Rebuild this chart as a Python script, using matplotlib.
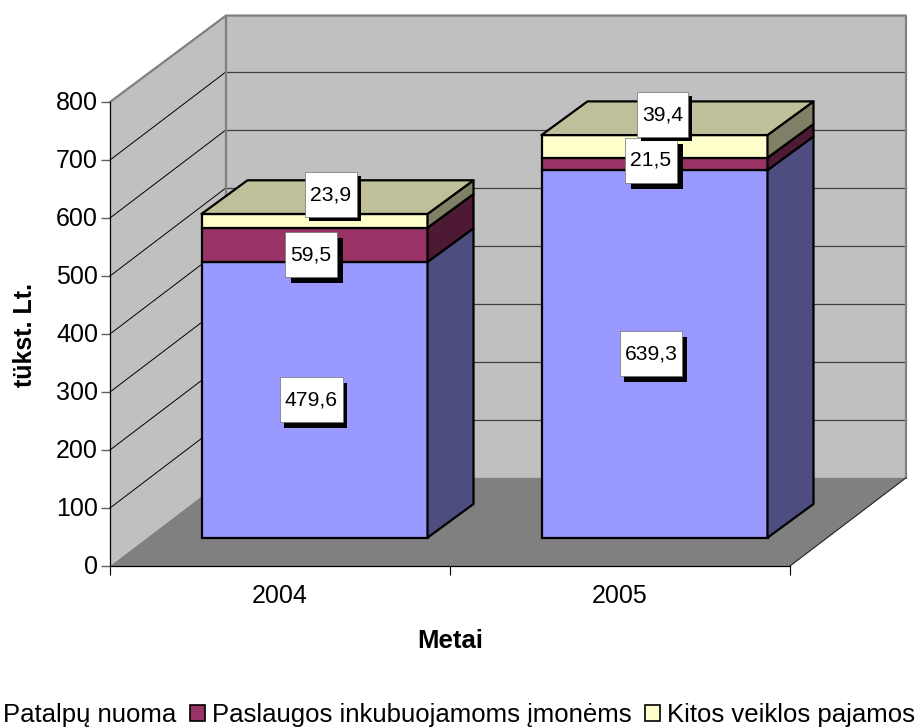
import matplotlib
matplotlib.use("Agg")
import matplotlib.pyplot as plt
from matplotlib.patches import Polygon, Patch
from matplotlib.path import Path
from matplotlib.transforms import ScaledTranslation
from matplotlib import patheffects as pe

plt.rcParams['font.family'] = ['Liberation Sans', 'DejaVu Sans']

# ---- data
years = ['2004', '2005']
series_names = ['Patalpų nuoma', 'Paslaugos inkubuojamoms įmonėms', 'Kitos veiklos pajamos']
patalpu = [479.6, 639.3]
paslaugos = [59.5, 21.5]
kitos = [23.9, 39.4]
y_ticks = [0, 100, 200, 300, 400, 500, 600, 700, 800]
label_texts = [['479,6', '639,3'], ['59,5', '21,5'], ['23,9', '39,4']]

# ---- styles
W, H = 918, 727
front = ['#9999FF', '#993366', '#FFFFCC']
side = ['#4D4D80', '#4D1933', '#808066']
top_col = '#BFBF99'
wall = '#C0C0C0'
floor = '#808080'

fig = plt.figure(figsize=(W / 100, H / 100), dpi=100, facecolor='white')


def px_axes(left, right, top, bottom, **kw):
    return fig.add_axes([left / W, 1 - bottom / H, (right - left) / W, (bottom - top) / H], **kw)


# wall / floor axes: x in category units, y in chart value units
ax = px_axes(110, 790, 102, 566)
ax.set_xlim(0, 2)
ax.set_ylim(0, 800)
ax.patch.set_visible(False)
DX, DY = 116 / 340, 152
TOP = 800 + DY - 3

ax.add_patch(Polygon([(0, 0), (DX, DY), (DX, TOP), (0, 800)], fc=wall, ec='none', clip_on=False, zorder=1))
ax.add_patch(Polygon([(DX, DY), (2 + DX, DY), (2 + DX, TOP), (DX, TOP)], fc=wall, ec='none', clip_on=False, zorder=1))
ax.add_patch(Polygon([(0, 0), (2, 0), (2 + DX, DY), (DX, DY)], fc=floor, ec='none', clip_on=False, zorder=1))
for v in y_ticks[1:-1]:
    ax.plot([0, DX], [v, v + DY], color='black', lw=0.7, clip_on=False, zorder=2)
    ax.plot([DX, 2 + DX], [v + DY, v + DY], color='#404040', lw=0.9, clip_on=False, zorder=2)
edge = dict(color='#808080', lw=1.6, clip_on=False, zorder=3, solid_capstyle='projecting')
ax.plot([0, DX, 2 + DX, 2 + DX], [800, TOP, TOP, DY], **edge)
ax.plot([DX, DX], [TOP, DY], **edge)
ax.plot([2, 2 + DX], [0, DY], color='#202020', lw=0.8, clip_on=False, zorder=3)

for s in ['top', 'right']:
    ax.spines[s].set_visible(False)
for s in ['left', 'bottom']:
    ax.spines[s].set_linewidth(0.9)
    ax.spines[s].set_zorder(4)
ax.set_yticks(y_ticks)
ax.set_xticks([0, 1, 2])
ax.set_xticklabels([])
ax.set_xticks([0.5, 1.5], minor=True)
ax.set_xticklabels(years, minor=True)
ax.tick_params(axis='y', length=6.2, width=1.0, color='#606060', labelsize=18, pad=2.5)
ax.tick_params(axis='x', which='major', length=6.2, width=0.8, color='black')
ax.tick_params(axis='x', which='minor', length=0, labelsize=18, pad=13)
for lab in ax.get_yticklabels():
    lab.set_transform(lab.get_transform() + ScaledTranslation(0, 1.5 / 72 * 0.72, fig.dpi_scale_trans))
ax.set_xlabel('Metai', fontsize=18.5, fontweight='bold', labelpad=15)
fig.text(25 / W, 1 - 335 / H, 'tükst. Lt.', rotation=90, fontsize=18, fontweight='bold', ha='center', va='center')

# bar axes: the plane of the bars' front faces
axb = px_axes(144.5, 824.5, 537.7 - 800 * 0.575, 537.7)
axb.set_xlim(-0.5, 1.5)
axb.set_ylim(0, 800)
axb.axis('off')
BW = 226 / 340
BDX, BDY = 46 / 340, 58.6
LW = 1.6

xs = [0, 1]
stack = [patalpu, paslaugos, kitos]
bottoms = [0.0, 0.0]
handles = []
mids = []
for k, vals in enumerate(stack):
    axb.bar(xs, vals, BW, bottom=bottoms, color=front[k], edgecolor='black', linewidth=LW,
            clip_on=False, zorder=3 + k * 0.1)
    level = []
    for i, x in enumerate(xs):
        r = x + BW / 2
        b0, b1 = bottoms[i], bottoms[i] + vals[i]
        axb.add_patch(Polygon([(r, b0), (r + BDX, b0 + BDY), (r + BDX, b1 + BDY), (r, b1)],
                              fc=side[k], ec='black', lw=LW, clip_on=False, zorder=3 + k * 0.1,
                              joinstyle='round'))
        level.append((b0 + b1) / 2)
    mids.append(level)
    bottoms = [bottoms[i] + vals[i] for i in range(2)]
    handles.append(Patch(fc=front[k], ec='black', lw=1.2))
for i, x in enumerate(xs):
    l, r, t = x - BW / 2, x + BW / 2, bottoms[i]
    axb.add_patch(Polygon([(l, t), (r, t), (r + BDX, t + BDY), (l + BDX, t + BDY)],
                          fc=top_col, ec='black', lw=LW, clip_on=False, zorder=3.5, joinstyle='round'))


# data labels: white boxes of fixed height with hard black shadow
def label_box(x0, y0, w, h, mutation_size):
    cy = y0 + h / 2
    px, hh = 5.0, 22.5
    return Path([(x0 - px, cy - hh), (x0 + w + px, cy - hh), (x0 + w + px, cy + hh),
                 (x0 - px, cy + hh), (x0 - px, cy - hh)], closed=True)


offsets = [[(-3.5, 0), (-3.5, 0)], [(-3.5, -10), (-3.5, 3.5)], [(16.5, 26), (8, 31.5)]]
shadow = [[(4.5, -6), (4.5, -6)], [(6, -6), (6, -6)], [(4, -4), (4, -4)]]
for k in range(3):
    for i in range(2):
        t = axb.annotate(label_texts[k][i], xy=(xs[i], mids[k][i]), xytext=offsets[k][i],
                         textcoords=('offset pixels'), ha='center', va='center', fontsize=15.2,
                         color='black', zorder=6 + k,
                         bbox=dict(boxstyle=label_box, fc='white', ec='#707070', lw=0.5),
                         annotation_clip=False)
        sx, sy = shadow[k][i]
        t.get_bbox_patch().set_path_effects([
            pe.SimplePatchShadow(offset=(sx * 0.72, sy * 0.72), shadow_rgbFace='black', alpha=1.0),
            pe.Normal()])

# legend, whose first swatch falls off the left edge as in the reference
leg = fig.legend(handles, series_names, ncol=3, loc='lower left',
                 bbox_to_anchor=(-19 / W, 0 / H), frameon=False, fontsize=18.5,
                 borderpad=0, borderaxespad=0, handlelength=0.6, handleheight=0.6,
                 handletextpad=0.26, columnspacing=0.52)

fig.savefig('out.png', dpi=100, facecolor='white')
